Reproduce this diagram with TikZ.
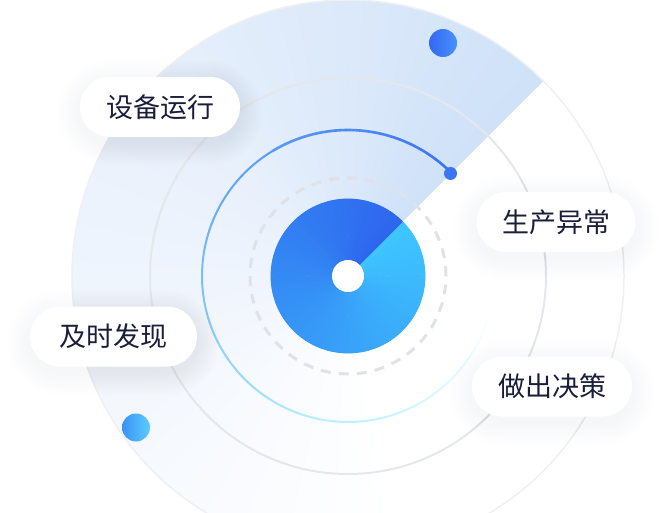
\documentclass[tikz,border=0pt]{standalone}
\usepackage{fontspec}
\newfontfamily\cjk{Noto Sans CJK SC}
\definecolor{secA}{HTML}{CFE2F8}
\definecolor{secB}{HTML}{E8F0FC}
\definecolor{discA}{HTML}{3EC6FF}
\definecolor{discB}{HTML}{2E66EE}
\definecolor{ringA}{HTML}{3A72F0}
\definecolor{ringB}{HTML}{64ACF7}
\definecolor{ringC}{HTML}{B8F1FF}
\definecolor{arcblue}{HTML}{3A76F0}
\definecolor{grayring}{HTML}{E4E7EC}
\definecolor{outerring}{HTML}{EEF0F4}
\definecolor{dashc}{HTML}{DFE2E8}
\definecolor{navy}{HTML}{1A1E3A}
\definecolor{shadowc}{HTML}{6A7AA0}
\definecolor{dotAl}{HTML}{3468F0}
\definecolor{dotAr}{HTML}{4A90FF}
\definecolor{dotBl}{HTML}{3A92F5}
\definecolor{dotBr}{HTML}{5CCCFF}
\pgfdeclarelayer{back}
\pgfdeclarelayer{shadelayer}
\pgfsetlayers{back,shadelayer,main}
\tikzset{
  pill/.style={rectangle, rounded corners=30pt, minimum height=60pt, fill=white,
    text=navy, inner sep=0pt, font=\cjk\fontsize{27}{30}\selectfont},
  bigdot/.style={circle, inner sep=0pt, minimum size=28pt},
}
\begin{document}
\begin{tikzpicture}[x=1pt,y=1pt]
\useasboundingbox (0,0) rectangle (666,512);
\coordinate (c) at (348,236);
\begin{pgfonlayer}{back}
  % light blue sector (conic fade)
  \foreach \i in {0,...,119} {
    \pgfmathsetmacro\a{45+2*\i}
    \pgfmathsetmacro\t{\a<135 ? 100-(\a-45)/90*60 : max(0,40-(\a-135)/150*40)}
    \pgfmathsetmacro\u{\a<135 ? 100 : 0}
    \ifdim\u pt>50pt
      \pgfmathsetmacro\v{(\a-45)/90*100}
      \colorlet{tmpc}{secB!\v!secA}
    \else
      \pgfmathsetmacro\v{max(0,min(100,100-(\a-135)/145*100))}
      \colorlet{tmpc}{secB!\v!white}
    \fi
    \filldraw[tmpc, line width=0.6pt, line join=bevel] (c) -- ++(\a:276) arc (\a:\a+2:276) -- cycle;
  }
  % outer faint ring
  \draw[outerring, line width=1.5pt] (c) circle (276);
  % gray ring
  \draw[grayring, line width=2pt] (c) circle (198);
  % gradient ring (conic)
  \foreach \i in {0,...,149} {
    \pgfmathsetmacro\a{45+2*\i}
    \ifdim\a pt<150pt
      \pgfmathsetmacro\v{(\a-45)/105*100}
      \colorlet{tmpc}{ringB!\v!ringA}
    \else
      \pgfmathsetmacro\v{min(100,(\a-150)/110*100)}
      \colorlet{tmpc}{ringC!\v!ringB}
    \fi
    \pgfmathsetmacro\o{\a<265 ? 1 : max(0,1-(\a-265)/80)}
    \pgfmathsetmacro\w{\a<120 ? 2.6 : 2.0}
    \draw[tmpc, line width=\w pt, draw opacity=\o] (c) ++(\a:146) arc (\a:\a+2.1:146);
  }
  % dashed ring
  \draw[dashc, line width=3pt, dash pattern=on 10pt off 8.1pt] (c) circle (98);
  % conic disc
  \foreach \i in {0,...,179} {
    \pgfmathsetmacro\a{45-2*\i}
    \pgfmathsetmacro\t{\i/179*100}
    \colorlet{tmpc}{discB!\t!discA}
    \filldraw[tmpc, line width=0.8pt, line join=bevel] (c) -- ++(\a:77) arc (\a:\a-2:77) -- cycle;
  }
  \fill[white] (c) circle (16);
\end{pgfonlayer}
\path (c) ++(45:145) node[circle, fill=arcblue, inner sep=0pt, minimum size=13pt] (arcdot) {};
\node[bigdot, left color=dotAl, right color=dotAr] (dotA) at (443,469) {};
\node[bigdot, left color=dotBl, right color=dotBr] (dotB) at (136,84.5) {};
% pills
\node[pill, minimum width=160pt] (p1) at (160,405) {设备运行};
\node[pill, minimum width=159pt] (p2) at (556,290) {生产异常};
\node[pill, minimum width=167pt] (p3) at (113.5,175.5) {及时发现};
\node[pill, minimum width=160pt] (p4) at (552,125.5) {做出决策};
\begin{pgfonlayer}{shadelayer}
  \foreach \n in {p1,p2,p3,p4} {
    \foreach \k in {1,...,16} {
      \fill[shadowc, opacity=0.0055, rounded corners=30pt+1.4*\k pt]
        ([xshift=-1.4*\k pt, yshift=-1.4*\k pt-6pt]\n.south west) rectangle ([xshift=1.4*\k pt, yshift=1.4*\k pt-6pt]\n.north east);
    }
  }
\end{pgfonlayer}
\end{tikzpicture}
\end{document}
